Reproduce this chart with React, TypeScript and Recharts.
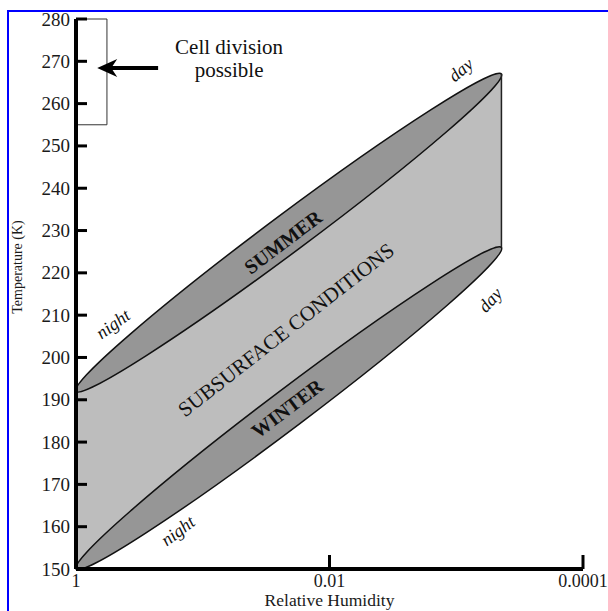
import React from 'react';
import {
  ComposedChart,
  Area,
  XAxis,
  YAxis,
  ReferenceArea,
  ReferenceLine,
  ReferenceDot,
} from 'recharts';

// x axis: relative humidity (log scale, drier to the right)
const humidityTicks = [1, 0.01, 0.0001];
const humidityTickLabels = ['1', '0.01', '0.0001'];
// y axis: temperature in K
const temperatureTicks = [150, 160, 170, 180, 190, 200, 210, 220, 230, 240, 250, 260, 270, 280];

// season ellipses: night end (wet, cold) to day end (dry, warm)
const seasonNames = ['SUMMER', 'WINTER'];
const nightHumidity = [1, 1];
const nightTemperature = [192, 150];
const dayHumidity = [0.00044, 0.00044];
const dayTemperature = [267, 226];

// region where cell division is possible
const cellHumidity = [1, 0.57];
const cellTemperature = [255, 280];
// arrow pointing at it
const arrowHumidity = [0.225, 0.68];
const arrowTemperature = [268.4, 268.4];

// text labels inside the plot
const noteText = ['SUMMER', 'WINTER', 'SUBSURFACE CONDITIONS', 'night', 'night', 'day', 'day', 'Cell division', 'possible'];
const noteHumidity = [0.0233, 0.0216, 0.022, 0.51, 0.157, 0.00092, 0.00054, 0.062, 0.062];
const noteTemperature = [227.3, 188, 206.5, 207.9, 159, 268, 213.6, 273.5, 268];

const serif = '"Liberation Serif", "Times New Roman", serif';
const noteStyle = [
  { angle: -37, weight: 700, italic: false, size: 20 },
  { angle: -37, weight: 700, italic: false, size: 20 },
  { angle: -38, weight: 400, italic: false, size: 21 },
  { angle: -36, weight: 400, italic: true, size: 18 },
  { angle: -37, weight: 400, italic: true, size: 18 },
  { angle: -40, weight: 400, italic: true, size: 18 },
  { angle: -48, weight: 400, italic: true, size: 18 },
  { angle: 0, weight: 400, italic: false, size: 21 },
  { angle: 0, weight: 400, italic: false, size: 21 },
];

// band between winter and summer (subsurface conditions)
const bandData = [
  { rh: nightHumidity[0], band: [nightTemperature[1], nightTemperature[0]] },
  { rh: dayHumidity[0], band: [dayTemperature[1], dayTemperature[0]] },
];

const ELLIPSE_FILL = '#969696';
const BAND_FILL = '#bdbdbd';

function SeasonEllipse(props: any) {
  const { x, y, width, height } = props;
  const x1 = x;
  const y1 = y + height;
  const x2 = x + width;
  const y2 = y;
  const cx = (x1 + x2) / 2;
  const cy = (y1 + y2) / 2;
  const rx = Math.hypot(x2 - x1, y2 - y1) / 2;
  const angle = (Math.atan2(y2 - y1, x2 - x1) * 180) / Math.PI;
  return (
    <ellipse
      cx={cx}
      cy={cy}
      rx={rx}
      ry={19}
      transform={`rotate(${angle} ${cx} ${cy})`}
      fill={ELLIPSE_FILL}
      stroke="#111"
      strokeWidth={1.5}
    />
  );
}

function Arrow(props: any) {
  const { x1, y1, x2, y2 } = props;
  const left = Math.min(x1, x2);
  const right = Math.max(x1, x2);
  return (
    <g>
      <line x1={right} y1={y1} x2={left + 12} y2={y2} stroke="#000" strokeWidth={4} />
      <polygon
        points={`${left},${y2} ${left + 20},${y2 - 9} ${left + 14},${y2} ${left + 20},${y2 + 9}`}
        fill="#000"
      />
    </g>
  );
}

function YTick(props: any) {
  const { x, y, payload } = props;
  return (
    <g>
      <line x1={x + 6} x2={x + 17} y1={y} y2={y} stroke="#000" strokeWidth={3} />
      <text x={x} y={y} dy={6.5} textAnchor="end" fontSize={19} fontFamily={serif} fill="#1a1a1a">
        {payload.value}
      </text>
    </g>
  );
}

function XTick(props: any) {
  const { x, y, payload } = props;
  const i = humidityTicks.indexOf(payload.value);
  return (
    <g>
      {i > 0 && <line x1={x} x2={x} y1={y - 4} y2={y - 18} stroke="#000" strokeWidth={3} />}
      <text x={x} y={y} dy={14} textAnchor="middle" fontSize={18} fontFamily={serif} fill="#1a1a1a">
        {i >= 0 ? humidityTickLabels[i] : payload.value}
      </text>
    </g>
  );
}

function noteShape(i: number) {
  const s = noteStyle[i];
  return (p: any) => (
    <text
      x={p.cx}
      y={p.cy}
      textAnchor="middle"
      dominantBaseline="central"
      transform={s.angle ? `rotate(${s.angle} ${p.cx} ${p.cy})` : undefined}
      fontFamily={serif}
      fontSize={s.size}
      fontWeight={s.weight}
      fontStyle={s.italic ? 'italic' : 'normal'}
      fill="#111"
    >
      {noteText[i]}
    </text>
  );
}

export default function App() {
  return (
    <div style={{ position: 'absolute', left: 0, top: 0, width: 608, height: 611, overflow: 'hidden', background: '#fff' }}>
      <div
        style={{
          position: 'absolute',
          left: 7,
          top: 10,
          width: 700,
          height: 700,
          borderTop: '2px solid #0000ff',
          borderLeft: '2px solid #0000ff',
        }}
      />
      <div style={{ position: 'absolute', left: 0, top: 0 }}>
        <ComposedChart width={608} height={611} data={bandData} margin={{ top: 19, right: 25, bottom: 0, left: 16 }}>
          <XAxis
            dataKey="rh"
            type="number"
            scale="log"
            domain={[0.0001, 1]}
            reversed
            ticks={humidityTicks}
            interval={0}
            allowDataOverflow
            height={42}
            tickSize={0}
            tickMargin={4}
            tickLine={false}
            axisLine={{ stroke: '#000', strokeWidth: 4 }}
            tick={<XTick />}
            label={{ value: 'Relative Humidity', position: 'insideBottom', offset: 5, fontSize: 17.5, fontFamily: serif, fill: '#1a1a1a' }}
          />
          <YAxis
            type="number"
            domain={[150, 280]}
            ticks={temperatureTicks}
            interval={0}
            allowDataOverflow
            width={60}
            tickSize={0}
            tickMargin={6}
            tickLine={false}
            axisLine={{ stroke: '#000', strokeWidth: 4 }}
            tick={<YTick />}
            label={{ value: 'Temperature (K)', angle: -90, position: 'center', dx: -29, dy: -27, fontSize: 14, fontFamily: serif, fill: '#1a1a1a' }}
          />
          <Area
            type="linear"
            dataKey="band"
            fill={BAND_FILL}
            fillOpacity={1}
            stroke="none"
            isAnimationActive={false}
          />
          <ReferenceLine
            segment={[
              { x: dayHumidity[0], y: dayTemperature[1] },
              { x: dayHumidity[0], y: dayTemperature[0] },
            ]}
            stroke="#222"
            strokeWidth={1.5}
          />
          {seasonNames.map((name, i) => (
            <ReferenceArea
              key={name}
              x1={nightHumidity[i]}
              x2={dayHumidity[i]}
              y1={nightTemperature[i]}
              y2={dayTemperature[i]}
              zIndex={150}
              shape={(p: any) => <SeasonEllipse {...p} />}
            />
          ))}
          <ReferenceArea
            x1={cellHumidity[0]}
            x2={cellHumidity[1]}
            y1={cellTemperature[0]}
            y2={cellTemperature[1]}
            fill="none"
            fillOpacity={0}
            stroke="#333"
            strokeWidth={1}
            zIndex={150}
          />
          <ReferenceLine
            segment={[
              { x: arrowHumidity[0], y: arrowTemperature[0] },
              { x: arrowHumidity[1], y: arrowTemperature[1] },
            ]}
            shape={(p: any) => <Arrow {...p} />}
          />
          {noteText.map((t, i) => (
            <ReferenceDot
              key={`${t}-${i}`}
              x={noteHumidity[i]}
              y={noteTemperature[i]}
              r={0}
              zIndex={700}
              shape={noteShape(i)}
            />
          ))}
        </ComposedChart>
      </div>
    </div>
  );
}
